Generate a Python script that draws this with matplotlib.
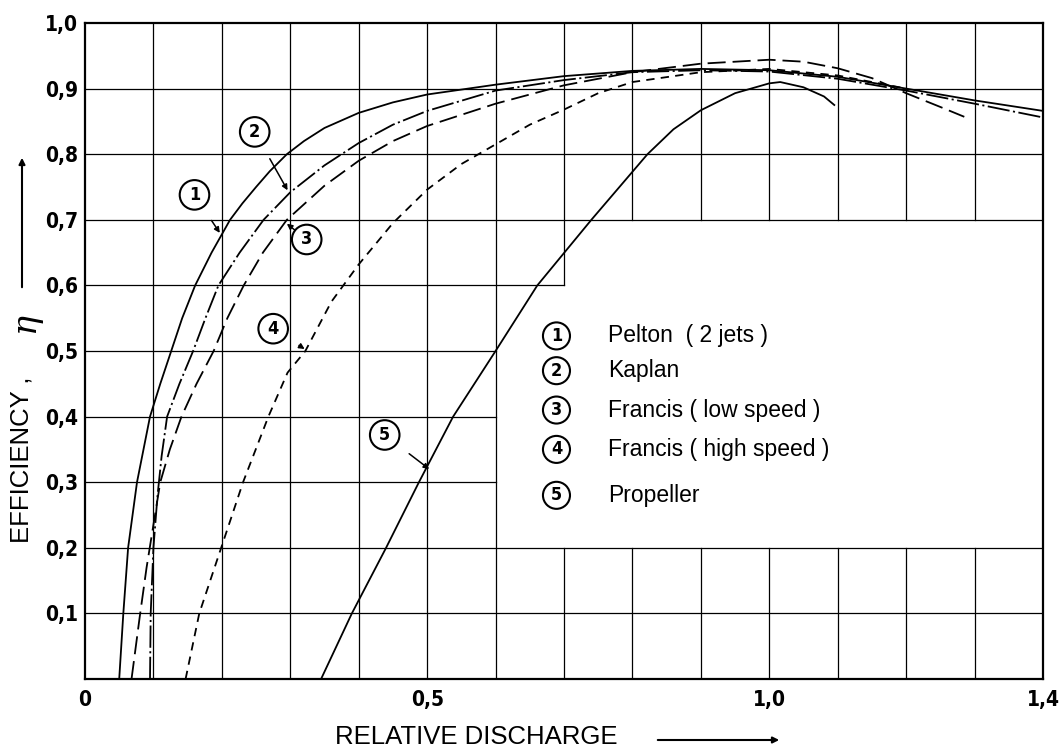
import matplotlib
matplotlib.use("Agg")
import matplotlib.pyplot as plt
from matplotlib import font_manager
from matplotlib.patches import FancyArrowPatch

plt.rcParams["lines.scale_dashes"] = False

# ---- efficiency curves (relative discharge -> efficiency) ----
pelton_q = [0.05, 0.056, 0.063, 0.076, 0.095, 0.11, 0.126, 0.142, 0.161, 0.185, 0.212, 0.23,
            0.25, 0.27, 0.295, 0.32, 0.35, 0.4, 0.45, 0.5, 0.6, 0.7, 0.8, 0.9, 1.0, 1.1, 1.2,
            1.3, 1.4]
pelton_eta = [0.0, 0.1, 0.2, 0.3, 0.4, 0.45, 0.5, 0.55, 0.6, 0.65, 0.7, 0.725,
              0.75, 0.774, 0.8, 0.82, 0.84, 0.863, 0.879, 0.891, 0.906, 0.919, 0.927, 0.93,
              0.928, 0.918, 0.9, 0.882, 0.866]

kaplan_q = [0.095, 0.096, 0.1, 0.106, 0.112, 0.12, 0.138, 0.158, 0.176, 0.195, 0.226, 0.261,
            0.3, 0.35, 0.4, 0.45, 0.5, 0.6, 0.7, 0.8, 0.9, 1.0, 1.1, 1.2, 1.3, 1.4]
kaplan_eta = [0.0, 0.1, 0.2, 0.28, 0.34, 0.4, 0.45, 0.5, 0.55, 0.6, 0.65, 0.7,
              0.742, 0.783, 0.817, 0.845, 0.866, 0.897, 0.913, 0.925, 0.928, 0.926, 0.915,
              0.897, 0.877, 0.856]

francis_low_q = [0.068, 0.08, 0.09, 0.1, 0.11, 0.124, 0.141, 0.163, 0.188, 0.208, 0.232, 0.26,
                 0.295, 0.35, 0.4, 0.45, 0.5, 0.6, 0.7, 0.8, 0.9, 1.0, 1.05, 1.1, 1.15, 1.2,
                 1.25, 1.285]
francis_low_eta = [0.0, 0.095, 0.17, 0.235, 0.3, 0.35, 0.4, 0.45, 0.5, 0.55, 0.6, 0.65,
                   0.7, 0.752, 0.79, 0.82, 0.843, 0.877, 0.905, 0.925, 0.938, 0.944, 0.941,
                   0.931, 0.916, 0.893, 0.872, 0.857]

francis_high_q = [0.147, 0.167, 0.199, 0.231, 0.268, 0.296, 0.322, 0.36, 0.4, 0.45, 0.5, 0.55,
                  0.6, 0.65, 0.7, 0.75, 0.8, 0.9, 1.0, 1.1, 1.2]
francis_high_eta = [0.0, 0.1, 0.2, 0.3, 0.4, 0.467, 0.5, 0.575, 0.632, 0.695, 0.746, 0.785,
                    0.815, 0.845, 0.868, 0.893, 0.91, 0.925, 0.93, 0.92, 0.9]

propeller_q = [0.345, 0.39, 0.44, 0.488, 0.538, 0.6, 0.661, 0.74, 0.822, 0.86, 0.9, 0.95,
               1.0, 1.016, 1.05, 1.08, 1.095]
propeller_eta = [0.0, 0.1, 0.2, 0.3, 0.4, 0.5, 0.6, 0.7, 0.8, 0.838, 0.867, 0.893,
                 0.908, 0.91, 0.902, 0.888, 0.875]

# ---- labels ----
turbine_labels = ["Pelton  ( 2 jets )", "Kaplan", "Francis ( low speed )",
                  "Francis ( high speed )", "Propeller"]
xtick_vals = [0.0, 0.5, 1.0, 1.4]
xtick_text = ["0", "0,5", "1,0", "1,4"]
ytick_vals = [0.1, 0.2, 0.3, 0.4, 0.5, 0.6, 0.7, 0.8, 0.9, 1.0]
ytick_text = ["0,1", "0,2", "0,3", "0,4", "0,5", "0,6", "0,7", "0,8", "0,9", "1,0"]


def narrow_font():
    """Pick a condensed sans face for the numerals, bold if possible."""
    best = None
    for f in font_manager.fontManager.ttflist:
        nm = f.name
        if "Serif" in nm or "Mono" in nm:
            continue
        narrow = ("Narrow" in nm or "Condensed" in nm
                  or str(f.stretch) in ("condensed", "semi-condensed", "extra-condensed"))
        if not narrow:
            continue
        score = 2 if str(f.weight) in ("bold", "700") else 1
        if f.style != "normal":
            score -= 2
        if best is None or score > best[0]:
            best = (score, f.fname)
    return best[1] if best else None


nf = narrow_font()


def num_font(size):
    if nf:
        return font_manager.FontProperties(fname=nf, size=size)
    return font_manager.FontProperties(family="DejaVu Sans", weight="bold", size=size)


W, H = 1062, 751
fig = plt.figure(figsize=(W / 100, H / 100), dpi=100)
ax = fig.add_axes([85 / W, (H - 679) / H, (1043 - 85) / W, (679 - 23) / H])
ax.set_xlim(0, 1.4)
ax.set_ylim(0, 1.0)

# ---- grid, leaving the legend panel blank ----
glw = 0.9
for k in range(1, 14):
    x = k / 10
    if k <= 6:
        spans = [(0, 1)]
    elif k == 7:
        spans = [(0, 0.2), (0.6, 1)]
    else:
        spans = [(0, 0.2), (0.7, 1)]
    for a, b in spans:
        ax.plot([x, x], [a, b], color="black", lw=glw, zorder=1)
for j in range(1, 10):
    y = j / 10
    if j in (3, 4, 5):
        spans = [(0, 0.6)]
    elif j == 6:
        spans = [(0, 0.7)]
    else:
        spans = [(0, 1.4)]
    for a, b in spans:
        ax.plot([a, b], [y, y], color="black", lw=glw, zorder=1)

for s in ax.spines.values():
    s.set_linewidth(1.6)

# ---- curves ----
clw = 1.3
ax.plot(pelton_q, pelton_eta, color="black", lw=clw, zorder=3)
ax.plot(kaplan_q, kaplan_eta, color="black", lw=clw, dashes=(16, 2.5, 1.5, 2.5), zorder=3)
ax.plot(francis_low_q, francis_low_eta, color="black", lw=clw, dashes=(13, 5), zorder=3)
ax.plot(francis_high_q, francis_high_eta, color="black", lw=clw, dashes=(6, 4.5), zorder=3)
ax.plot(propeller_q, propeller_eta, color="black", lw=clw, zorder=3)

# ---- numbered callouts ----
circ = dict(boxstyle="circle,pad=0.32", fc="white", ec="black", lw=1.5)
arrow = dict(arrowstyle="-|>", lw=1.1, color="black", shrinkA=11, shrinkB=0, mutation_scale=8)
callouts = [("1", (0.16, 0.738), (0.197, 0.68)),
            ("2", (0.248, 0.834), (0.296, 0.745)),
            ("3", (0.324, 0.67), (0.295, 0.694)),
            ("4", (0.275, 0.534), (0.321, 0.503)),
            ("5", (0.438, 0.372), (0.503, 0.32))]
for num, pos, tip in callouts:
    ax.annotate(num, xy=tip, xytext=pos, ha="center", va="center",
                fontproperties=num_font(13), bbox=circ, arrowprops=arrow, zorder=5)

# ---- legend panel ----
legend_y = [0.523, 0.47, 0.41, 0.35, 0.28]
circ_small = dict(boxstyle="circle,pad=0.25", fc="white", ec="black", lw=1.5)
for i, (lab, y) in enumerate(zip(turbine_labels, legend_y)):
    ax.text(0.689, y, str(i + 1), ha="center", va="center",
            fontproperties=num_font(13), bbox=circ_small, zorder=5)
    ax.text(0.764, y, lab, ha="left", va="center", fontsize=16.5,
            family="Liberation Sans", zorder=5)

# ---- ticks ----
ax.tick_params(length=0)
ax.set_xticks(xtick_vals)
ax.set_xticklabels(xtick_text)
ax.set_yticks(ytick_vals)
ax.set_yticklabels(ytick_text)
for lbl in ax.get_xticklabels() + ax.get_yticklabels():
    lbl.set_fontproperties(num_font(15))
ax.tick_params(axis="x", pad=8)
ax.tick_params(axis="y", pad=5)

# ---- axis titles with arrows ----
fig.text(335 / W, 1 - 737 / H, "RELATIVE DISCHARGE", ha="left", va="center",
         fontsize=18.5, family="Liberation Sans")
fig.add_artist(FancyArrowPatch(
    (655 / W, 1 - 740 / H), (782 / W, 1 - 740 / H), transform=fig.transFigure,
    arrowstyle="-|>", mutation_scale=9, lw=1.5, color="black"))

fig.text(22 / W, 1 - 543 / H, "EFFICIENCY ,", ha="left", va="center", rotation=90,
         rotation_mode="anchor", fontsize=18.5, family="Liberation Sans")
fig.text(25 / W, 1 - 322 / H, "η", ha="center", va="center", rotation=90,
         fontsize=24, family="DejaVu Serif", style="italic")
fig.add_artist(FancyArrowPatch(
    (22 / W, 1 - 290 / H), (22 / W, 1 - 155 / H), transform=fig.transFigure,
    arrowstyle="-|>", mutation_scale=9, lw=1.5, color="black"))

fig.savefig("out.png", dpi=100, facecolor="white")
